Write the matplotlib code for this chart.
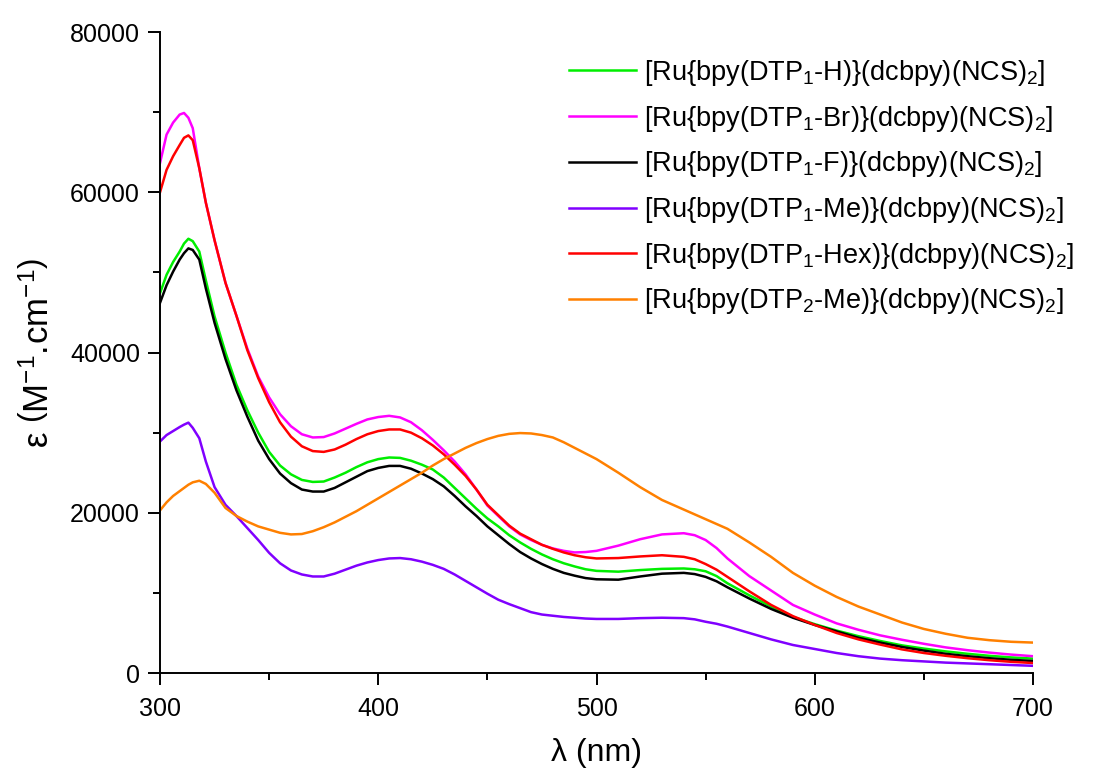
import matplotlib
matplotlib.use("Agg")
import matplotlib.pyplot as plt
from matplotlib.ticker import MultipleLocator

plt.rcParams['font.family'] = ['Liberation Sans', 'DejaVu Sans']
plt.rcParams['mathtext.fontset'] = 'custom'
plt.rcParams['mathtext.rm'] = 'Liberation Sans'
plt.rcParams['mathtext.it'] = 'Liberation Sans:italic'
plt.rcParams['mathtext.bf'] = 'Liberation Sans:bold'

wavelength = [300, 303, 306, 309, 311, 313, 315, 318, 321, 325, 330, 335, 340, 345, 350, 355, 360, 365,
              370, 375, 380, 385, 390, 395, 400, 405, 410, 415, 420, 425, 430, 435, 440, 445, 450, 455,
              460, 465, 470, 475, 480, 485, 490, 495, 500, 510, 520, 530, 540, 545, 550, 555, 560, 570,
              580, 590, 600, 610, 620, 630, 640, 650, 660, 670, 680, 690, 700]

eps_H = [47400, 49700, 51300, 52600, 53600, 54200, 53900, 52600, 49000, 44500, 40000, 36000, 32800, 30000,
         27600, 25900, 24800, 24100, 23850, 23900, 24400, 25000, 25700, 26300, 26700, 26900, 26850, 26500,
         26000, 25400, 24400, 23100, 21800, 20500, 19300, 18300, 17200, 16300, 15500, 14800, 14200, 13700,
         13300, 12950, 12750, 12650, 12850, 13000, 13050, 12950, 12700, 12100, 11200, 9700, 8300, 7000,
         6100, 5300, 4600, 4000, 3450, 3050, 2700, 2400, 2150, 1950, 1800]

eps_Br = [63650, 67200, 68700, 69700, 69900, 69300, 68000, 63000, 58700, 54000, 48700, 44600, 40500, 37000,
          34400, 32300, 30800, 29800, 29400, 29450, 29900, 30500, 31100, 31650, 31950, 32100, 31900, 31300,
          30300, 29100, 27800, 26400, 24800, 22900, 20900, 19600, 18300, 17300, 16600, 16000, 15550, 15250,
          15050, 15100, 15250, 15900, 16700, 17300, 17450, 17200, 16600, 15600, 14300, 12100, 10300, 8500,
          7300, 6200, 5400, 4700, 4150, 3650, 3200, 2850, 2550, 2300, 2100]

eps_F = [46200, 48400, 50100, 51600, 52400, 53000, 52800, 51600, 48000, 43700, 39200, 35300, 32000, 29000,
         26700, 24900, 23700, 22900, 22650, 22650, 23100, 23800, 24500, 25200, 25600, 25850, 25850, 25500,
         24900, 24200, 23300, 22100, 20800, 19600, 18300, 17200, 16100, 15100, 14300, 13600, 13000, 12500,
         12150, 11850, 11700, 11650, 12050, 12400, 12500, 12350, 12000, 11450, 10700, 9300, 8000, 6900,
         6000, 5200, 4400, 3800, 3250, 2800, 2400, 2100, 1850, 1650, 1500]

eps_Me = [28900, 29700, 30200, 30700, 31000, 31250, 30600, 29300, 26400, 23200, 21000, 19600, 18100, 16600,
          15000, 13700, 12800, 12300, 12050, 12050, 12400, 12900, 13400, 13800, 14100, 14300, 14350, 14200,
          13900, 13500, 13000, 12300, 11500, 10700, 9900, 9150, 8600, 8100, 7600, 7300, 7150, 7000,
          6900, 6800, 6750, 6750, 6850, 6900, 6850, 6700, 6400, 6150, 5800, 5000, 4200, 3500,
          3000, 2500, 2100, 1800, 1600, 1450, 1300, 1200, 1100, 1000, 900]

eps_Hex = [60000, 62800, 64500, 65900, 66800, 67100, 66500, 63000, 58700, 54000, 48700, 44600, 40300, 36800,
           33800, 31300, 29500, 28300, 27700, 27600, 27900, 28500, 29200, 29800, 30200, 30400, 30400, 30000,
           29300, 28400, 27300, 26000, 24600, 22900, 21000, 19700, 18400, 17400, 16700, 16000, 15500, 15050,
           14700, 14450, 14300, 14350, 14550, 14700, 14500, 14200, 13600, 12900, 12000, 10200, 8500, 7100,
           6000, 5000, 4200, 3550, 2950, 2500, 2150, 1850, 1600, 1400, 1250]

eps_DTP2 = [20300, 21300, 22100, 22700, 23100, 23500, 23800, 24000, 23600, 22500, 20600, 19600, 18900, 18300,
            17900, 17500, 17300, 17350, 17700, 18200, 18800, 19500, 20200, 21000, 21800, 22600, 23400, 24200,
            25000, 25900, 26700, 27400, 28100, 28700, 29200, 29600, 29850, 29950, 29900, 29700, 29400, 28800,
            28100, 27400, 26700, 25000, 23200, 21600, 20400, 19800, 19200, 18600, 18000, 16300, 14500, 12500,
            10900, 9500, 8300, 7300, 6300, 5500, 4900, 4400, 4100, 3900, 3800]

labels = [
    r'[Ru{bpy(DTP$_1$-H)}(dcbpy)(NCS)$_2$]',
    r'[Ru{bpy(DTP$_1$-Br)}(dcbpy)(NCS)$_2$]',
    r'[Ru{bpy(DTP$_1$-F)}(dcbpy)(NCS)$_2$]',
    r'[Ru{bpy(DTP$_1$-Me)}(dcbpy)(NCS)$_2$]',
    r'[Ru{bpy(DTP$_1$-Hex)}(dcbpy)(NCS)$_2$]',
    r'[Ru{bpy(DTP$_2$-Me)}(dcbpy)(NCS)$_2$]',
]
series = [eps_H, eps_Br, eps_F, eps_Me, eps_Hex, eps_DTP2]
colors = ['#00ee00', '#ff00ff', '#000000', '#8000ff', '#ff0000', '#ff8000']

fig = plt.figure(figsize=(10.93, 7.72), dpi=100)
ax = fig.add_axes([0.1464, 0.1282, 0.7987, 0.8303])

for y, lab, c in zip(series, labels, colors):
    ax.plot(wavelength, y, color=c, lw=1.8, label=lab)

ax.set_xlim(300, 700)
ax.set_ylim(0, 80000)
ax.xaxis.set_major_locator(MultipleLocator(100))
ax.xaxis.set_minor_locator(MultipleLocator(50))
ax.yaxis.set_major_locator(MultipleLocator(20000))
ax.yaxis.set_minor_locator(MultipleLocator(10000))
for s in ['top', 'right']:
    ax.spines[s].set_visible(False)
for s in ['left', 'bottom']:
    ax.spines[s].set_linewidth(1.4)
ax.tick_params(which='major', direction='out', length=8.5, width=1.4, labelsize=18, pad=6)
ax.tick_params(axis='x', which='major', pad=9)
ax.tick_params(which='minor', direction='out', length=5, width=1.4)

ax.set_xlabel('λ (nm)', fontsize=23, labelpad=12)
ax.set_ylabel(r'ε $\left(\mathrm{M^{-1}.\!cm^{-1}}\right)$', fontsize=25, labelpad=10)

ax.legend(loc='upper left', bbox_to_anchor=(0.521, 0.925), bbox_transform=fig.transFigure,
          frameon=False, fontsize=19.5, handlelength=2.45, handletextpad=0.3,
          labelspacing=0.58, borderaxespad=0, borderpad=0)

fig.savefig('out.png', dpi=100)
